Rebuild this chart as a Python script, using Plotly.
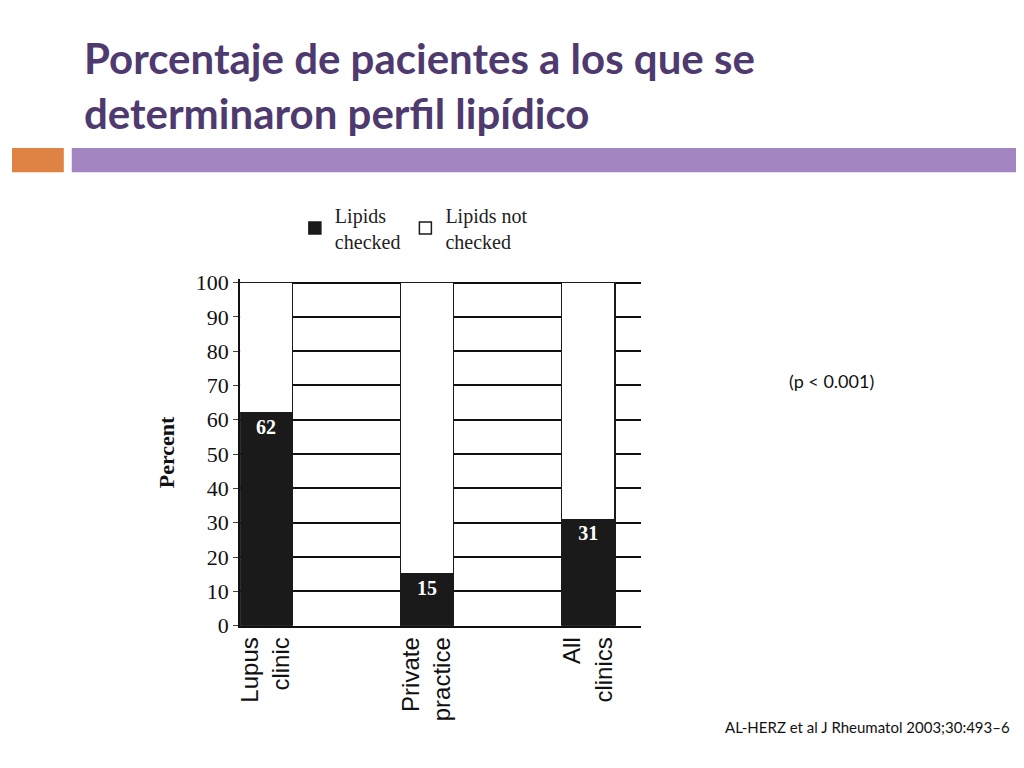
import plotly.graph_objects as go

categories = ["Lupus<br>clinic", "Private<br>practice", "All<br>clinics"]
checked = [62, 15, 31]
not_checked = [38, 85, 69]
y_ticks = [0, 10, 20, 30, 40, 50, 60, 70, 80, 90, 100]

# page has an 8px body margin, so work in reference pixels minus 8
W, H = 1008, 752
OFF = 8
serif = "Liberation Serif"


def px(x):
    return (x - OFF) / W


def py(y):
    return 1 - (y - OFF) / H


fig = go.Figure()
fig.add_trace(go.Bar(
    x=categories, y=checked, name="Lipids<br>checked",
    marker=dict(color="#1a1a1a", line=dict(color="#1a1a1a", width=1.5)),
    text=["<b>%d</b>" % v for v in checked], textposition="inside", insidetextanchor="end",
    textfont=dict(family=serif, size=20, color="white"), width=0.33
))
fig.add_trace(go.Bar(
    x=categories, y=not_checked, name="Lipids not<br>checked",
    marker=dict(color="white", line=dict(color="#1a1a1a", width=1.5)), width=0.33
))

fig.update_layout(
    width=W, height=H, barmode="stack", plot_bgcolor="white", paper_bgcolor="white",
    margin=dict(l=0, r=0, t=0, b=0), showlegend=True,
    legend=dict(orientation="h", x=px(292), y=py(192), xanchor="left", yanchor="top",
                font=dict(family=serif, size=20, color="#222"), traceorder="normal"),
    xaxis=dict(domain=[px(237), px(640)], range=[-0.16, 2.33], tickangle=-90,
               tickfont=dict(family="Liberation Sans", size=24, color="#111"),
               showline=True, linecolor="#111", linewidth=2, ticks=""),
    yaxis=dict(domain=[py(635), py(278)], range=[0, 101], tickvals=y_ticks,
               tickfont=dict(family=serif, size=22, color="#111"),
               showgrid=True, gridcolor="#111", gridwidth=1.5,
               showline=True, linecolor="#111", linewidth=2, ticks="outside",
               title=dict(text="<b>Percent</b>", font=dict(family=serif, size=22, color="#111"))),
    font=dict(family=serif),
    shapes=[
        dict(type="rect", xref="paper", yref="paper", x0=0, x1=px(60),
             y0=py(168), y1=py(143), fillcolor="#DE8344", line_width=0),
        dict(type="rect", xref="paper", yref="paper", x0=px(68), x1=1,
             y0=py(168), y1=py(143), fillcolor="#A385C1", line_width=0),
    ],
    annotations=[
        dict(text="<b>Porcentaje de pacientes a los que se<br>determinaron perfil lipídico</b>",
             xref="paper", yref="paper", x=px(78), y=py(22), xanchor="left", yanchor="top",
             align="left", showarrow=False,
             font=dict(family="Lato", size=42, color="#4E3A6E")),
        dict(text="(p < 0.001)", xref="paper", yref="paper", x=px(875), y=py(383),
             showarrow=False, font=dict(family="Lato", size=18, color="#111")),
        dict(text="AL-HERZ et al J Rheumatol 2003;30:493–6", xref="paper", yref="paper",
             x=px(1012), y=py(751), xanchor="right", showarrow=False,
             font=dict(family="Lato", size=15, color="#111")),
    ],
)

fig.write_html("out.html")
